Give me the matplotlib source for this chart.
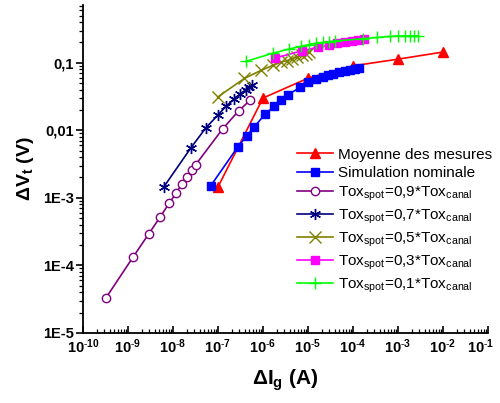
import numpy as np
import matplotlib
matplotlib.use('Agg')
import matplotlib.pyplot as plt
import matplotlib.transforms as mtransforms
from matplotlib.ticker import LogLocator, FixedLocator, FixedFormatter, NullFormatter

plt.rcParams['font.family'] = ['Liberation Sans', 'DejaVu Sans']
plt.rcParams['mathtext.fontset'] = 'custom'
plt.rcParams['mathtext.rm'] = 'Liberation Sans'
plt.rcParams['mathtext.it'] = 'Liberation Sans:italic'
plt.rcParams['mathtext.bf'] = 'Liberation Sans:bold'

# Moyenne des mesures
ig_mes = [1.0e-7, 1.0e-6, 1.0e-5, 1.0e-4, 1.0e-3, 1.0e-2]
vt_mes = [1.45e-3, 0.030, 0.059, 0.090, 0.113, 0.144]

# Simulation nominale
ig_nom = [6.9e-8, 2.74e-7, 4.35e-7, 6.3e-7, 1.12e-6, 1.75e-6, 2.47e-6, 3.6e-6, 6.6e-6,
          1.02e-5, 1.5e-5, 2.12e-5, 2.83e-5, 3.65e-5, 4.97e-5, 6.6e-5, 8.6e-5, 1.1e-4, 1.38e-4]
vt_nom = [1.51e-3, 5.64e-3, 8.3e-3, 0.0111, 0.0174, 0.0225, 0.028, 0.0336, 0.043,
          0.0518, 0.0574, 0.0614, 0.0649, 0.0687, 0.0718, 0.0753, 0.0787, 0.0815, 0.0834]

# Tox_spot = 0,9 * Tox_canal
ig_09 = [3.24e-10, 1.31e-9, 2.93e-9, 5.22e-9, 8.15e-9, 1.17e-8, 1.56e-8, 2.08e-8, 2.6e-8,
         3.2e-8, 1.27e-7, 2.9e-7, 5.1e-7]
vt_09 = [3.3e-5, 1.34e-4, 2.96e-4, 5.24e-4, 8.24e-4, 1.17e-3, 1.6e-3, 2.05e-3, 2.6e-3,
         3.1e-3, 0.0105, 0.0195, 0.0276]

# Tox_spot = 0,7 * Tox_canal
ig_07 = [6.3e-9, 2.5e-8, 5.4e-8, 9.8e-8, 1.5e-7, 2.23e-7, 3.08e-7, 4.1e-7, 4.97e-7, 5.8e-7]
vt_07 = [1.46e-3, 5.5e-3, 0.0109, 0.0166, 0.0226, 0.0286, 0.0343, 0.0398, 0.0436, 0.0462]

# Tox_spot = 0,5 * Tox_canal
ig_05 = [9.8e-8, 3.84e-7, 9.0e-7, 1.64e-6, 2.5e-6, 3.4e-6, 4.3e-6, 5.6e-6, 7.2e-6, 9.0e-6, 1.07e-5]
vt_05 = [0.031, 0.0585, 0.0769, 0.0912, 0.102, 0.107, 0.1135, 0.1215, 0.128, 0.136, 0.144]

# Tox_spot = 0,3 * Tox_canal
ig_03 = [1.85e-6, 7.5e-6, 1.64e-5, 2.93e-5, 4.48e-5, 6.6e-5, 9.4e-5, 1.31e-4, 1.75e-4]
vt_03 = [0.117, 0.151, 0.169, 0.183, 0.193, 0.203, 0.210, 0.217, 0.224]

# Tox_spot = 0,1 * Tox_canal
ig_01 = [4.13e-7, 1.7e-6, 3.84e-6, 6.9e-6, 1.04e-5, 1.5e-5, 2.12e-5, 2.97e-5, 4.05e-5,
         1.69e-4, 3.5e-4, 6.6e-4, 1.0e-3, 1.43e-3, 1.85e-3, 2.3e-3, 2.8e-3]
vt_01 = [0.1045, 0.139, 0.160, 0.174, 0.185, 0.193, 0.200, 0.205, 0.210,
         0.227, 0.237, 0.245, 0.249, 0.249, 0.250, 0.250, 0.250]

fig = plt.figure(figsize=(5.0, 4.03), dpi=100)
ax = fig.add_axes([0.166, 0.174, 0.81, 0.814])

lw = 1.2
ax.plot(ig_mes, vt_mes, '-^', color='#FF0000', lw=lw, ms=7, label='Moyenne des mesures')
ax.plot(ig_nom, vt_nom, '-s', color='#0000FF', lw=lw, ms=6, label='Simulation nominale')
ax.plot(ig_09, vt_09, '-o', color='#800080', lw=lw, ms=6, mfc='white', mew=1.0,
        label=r'Tox$_{\mathrm{spot}}$=0,9*Tox$_{\mathrm{canal}}$')
ax.plot(ig_07, vt_07, '-', marker=(6, 2, 0), color='#000080', lw=lw, ms=8, mew=1.0,
        label=r'Tox$_{\mathrm{spot}}$=0,7*Tox$_{\mathrm{canal}}$')
ax.plot(ig_05, vt_05, '-x', color='#808000', lw=lw, ms=8, mew=1.0,
        label=r'Tox$_{\mathrm{spot}}$=0,5*Tox$_{\mathrm{canal}}$')
ax.plot(ig_03, vt_03, '-s', color='#FF00FF', lw=lw, ms=6,
        label=r'Tox$_{\mathrm{spot}}$=0,3*Tox$_{\mathrm{canal}}$')
ax.plot(ig_01, vt_01, '-+', color='#00FF00', lw=lw, ms=8, mew=1.0,
        label=r'Tox$_{\mathrm{spot}}$=0,1*Tox$_{\mathrm{canal}}$')

ax.set_xscale('log')
ax.set_yscale('log')
ax.set_xlim(1e-10, 1e-1)
ax.set_ylim(1e-5, 0.72)

for s in ['top', 'right']:
    ax.spines[s].set_visible(False)
for s in ['left', 'bottom']:
    ax.spines[s].set_linewidth(1.3)

xt = [10.0 ** k for k in range(-10, 0)]
ax.xaxis.set_major_locator(FixedLocator(xt))
ax.xaxis.set_major_formatter(FixedFormatter([r'$\mathbf{10^{\text{-}%d}}$' % -k for k in range(-10, 0)]))
ax.xaxis.set_minor_locator(LogLocator(base=10, subs=np.arange(2, 10), numticks=50))
ax.xaxis.set_minor_formatter(NullFormatter())

yt = [1e-5, 1e-4, 1e-3, 1e-2, 1e-1]
ax.yaxis.set_major_locator(FixedLocator(yt))
ax.yaxis.set_major_formatter(FixedFormatter(['1E-5', '1E-4', '1E-3', '0,01', '0,1']))
ax.yaxis.set_minor_locator(LogLocator(base=10, subs=np.arange(2, 10), numticks=50))
ax.yaxis.set_minor_formatter(NullFormatter())

ax.tick_params(axis='x', which='both', direction='in', labelsize=10.5)
ax.tick_params(axis='y', which='both', direction='out', labelsize=10.5, pad=1.5)
ax.tick_params(which='major', length=5, width=1.2)
ax.tick_params(which='minor', length=3, width=0.9)
for lab in ax.get_yticklabels():
    lab.set_fontweight('bold')

# keep the last x label inside the picture
last = ax.xaxis.get_major_ticks()[-1].label1
last.set_transform(last.get_transform() + mtransforms.ScaledTranslation(-5 / 72, 0, fig.dpi_scale_trans))

ax.set_xlabel(r'ΔI$_{\mathbf{g}}$ (A)', fontsize=15, fontweight='bold', labelpad=8)
ax.set_ylabel(r'ΔV$_{\mathbf{t}}$ (V)', fontsize=14, fontweight='bold', labelpad=5)

ax.legend(loc='lower right', bbox_to_anchor=(1.025, 0.098), frameon=False, fontsize=11,
          handlelength=2.4, handletextpad=0.3, labelspacing=0.3, borderaxespad=0.0)

fig.savefig('out.png', dpi=100)
